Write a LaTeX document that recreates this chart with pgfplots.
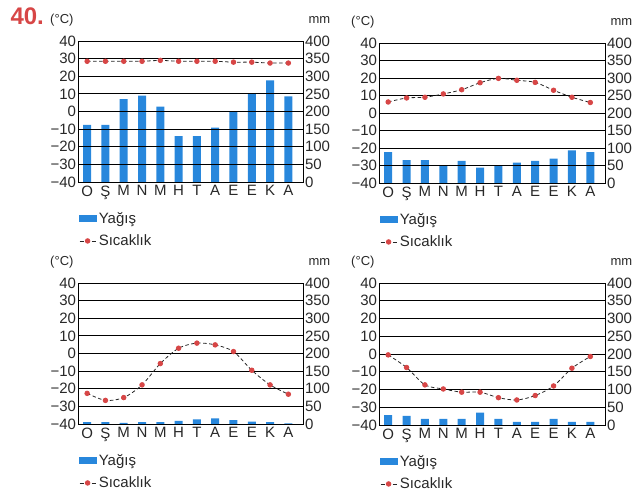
\documentclass[border=0pt]{standalone}
\usepackage{fontspec}
\setmainfont{Liberation Sans}
\usepackage{pgfplots}
\pgfplotsset{compat=1.18}

\definecolor{barblue}{RGB}{40,135,220}
\definecolor{dotred}{RGB}{215,70,70}
\definecolor{txt}{RGB}{40,40,40}

\pgfplotsset{
  barax/.style={
    scale only axis, anchor=south west,
    width=225pt, height=141pt,
    xmin=0.5, xmax=12.8, ymin=0, ymax=400,
    hide x axis, axis y line*=right,
    ytick={0,50,...,400},
    major tick length=0pt,
    y axis line style={line width=0.8pt},
    yticklabel style={font=\fontsize{15}{15}\selectfont, text=txt, xshift=-1.5pt},
    /pgf/number format/assume math mode=true,
    ybar, bar width=8pt,
  },
  tempax/.style={
    scale only axis, anchor=south west,
    width=225pt, height=141pt,
    xmin=0.5, xmax=12.8, ymin=-40, ymax=40,
    ytick={-40,-30,...,40},
    yticklabels={−40,−30,−20,−10,0,10,20,30,40},
    xtick={1,...,12},
    xticklabels={O,Ş,M,N,M,H,T,A,E,E,K,A},
    ytick pos=left, xtick pos=bottom,
    major tick length=0pt,
    ymajorgrids, grid style={black, line width=0.8pt},
    axis line style={line width=0.8pt},
    yticklabel style={font=\fontsize{15}{15}\selectfont, text=txt, xshift=1.5pt},
    xticklabel style={font=\fontsize{15}{15}\selectfont, text=txt},
    legend style={at={(0,0)}, anchor=north west, xshift=1pt, yshift=-28pt,
      draw=none, fill=none, inner sep=0pt, row sep=6pt,
      font=\fontsize{15}{15}\selectfont, text=txt},
    legend cell align=left,
  },
  templine/.style={color=black!85, line width=0.8pt, dash pattern=on 3.5pt off 2.5pt,
    smooth, mark=*, mark size=2.3pt, mark options={solid, fill=dotred, draw=dotred},
    legend image code/.code={\draw[mark repeat=2, mark phase=2, ##1]
      plot coordinates {(0pt,0pt) (8pt,0pt) (16pt,0pt)};}},
  barlegend/.style={legend image code/.code={\fill[barblue] (0pt,-3pt) rectangle (17pt,3pt);}},
}

\begin{document}
\begin{tikzpicture}
\useasboundingbox (0,0) rectangle (644pt,496pt);

\node[anchor=base west, font=\fontsize{24}{24}\selectfont\bfseries, text=dotred] at (7pt,471pt) {40.};

% ---- panel 1
\begin{axis}[barax, at={(78pt,314pt)}]
\addplot[fill=barblue, draw=none] coordinates {
  (1,162) (2,162) (3,235) (4,245) (5,214) (6,130)
  (7,130) (8,154) (9,198) (10,250) (11,288) (12,243)};
\end{axis}
\begin{axis}[tempax, at={(78pt,314pt)}, name=t1]
\addlegendimage{barlegend}
\addlegendentry{Yağış}
\addplot[templine] coordinates {
  (1,28.5) (2,28.5) (3,28.5) (4,28.5) (5,29) (6,28.5)
  (7,28.5) (8,28.5) (9,28) (10,28) (11,27.5) (12,27.5)};
\addlegendentry{Sıcaklık}
\end{axis}

% ---- panel 2
\begin{axis}[barax, at={(379pt,313pt)}, width=226pt, height=140pt]
\addplot[fill=barblue, draw=none] coordinates {
  (1,88) (2,65) (3,65) (4,50) (5,63) (6,44)
  (7,50) (8,58) (9,63) (10,70) (11,93) (12,88)};
\end{axis}
\begin{axis}[tempax, at={(379pt,313pt)}, width=226pt, height=140pt, name=t2]
\addlegendimage{barlegend}
\addlegendentry{Yağış}
\addplot[templine] coordinates {
  (1,6.3) (2,8.6) (3,9) (4,10.9) (5,13.3) (6,17.3)
  (7,19.8) (8,18.7) (9,17.5) (10,13) (11,9) (12,6)};
\addlegendentry{Sıcaklık}
\end{axis}

% ---- panel 3
\begin{axis}[barax, at={(78pt,72pt)}]
\addplot[fill=barblue, draw=none] coordinates {
  (1,5) (2,5) (3,3) (4,5) (5,5) (6,9)
  (7,13) (8,16) (9,11) (10,7) (11,5) (12,2)};
\end{axis}
\begin{axis}[tempax, at={(78pt,72pt)}, name=t3]
\addlegendimage{barlegend}
\addlegendentry{Yağış}
\addplot[templine] coordinates {
  (1,-22.6) (2,-26.6) (3,-25) (4,-17.8) (5,-5.7) (6,3)
  (7,5.9) (8,4.9) (9,1.1) (10,-9.5) (11,-17.8) (12,-23.1)};
\addlegendentry{Sıcaklık}
\end{axis}

% ---- panel 4
\begin{axis}[barax, at={(379pt,71pt)}, width=226pt, height=142pt]
\addplot[fill=barblue, draw=none] coordinates {
  (1,28) (2,26) (3,17) (4,17) (5,17) (6,35)
  (7,17) (8,9) (9,9) (10,17) (11,9) (12,9)};
\end{axis}
\begin{axis}[tempax, at={(379pt,71pt)}, width=226pt, height=142pt, name=t4]
\addlegendimage{barlegend}
\addlegendentry{Yağış}
\addplot[templine] coordinates {
  (1,-0.5) (2,-7.6) (3,-17.4) (4,-19.7) (5,-21.5) (6,-21.5)
  (7,-24.6) (8,-25.9) (9,-23.4) (10,-18) (11,-8) (12,-1.4)};
\addlegendentry{Sıcaklık}
\end{axis}

% unit labels
\foreach \a in {t1,t2,t3,t4}{
  \node[anchor=base east, font=\fontsize{13}{13}\selectfont, text=txt] at ([xshift=-1pt,yshift=18pt]\a.north west) {(°C)};
  \node[anchor=base west, font=\fontsize{13}{13}\selectfont, text=txt] at ([xshift=2pt,yshift=18pt]\a.north east) {mm};
}
\end{tikzpicture}
\end{document}
